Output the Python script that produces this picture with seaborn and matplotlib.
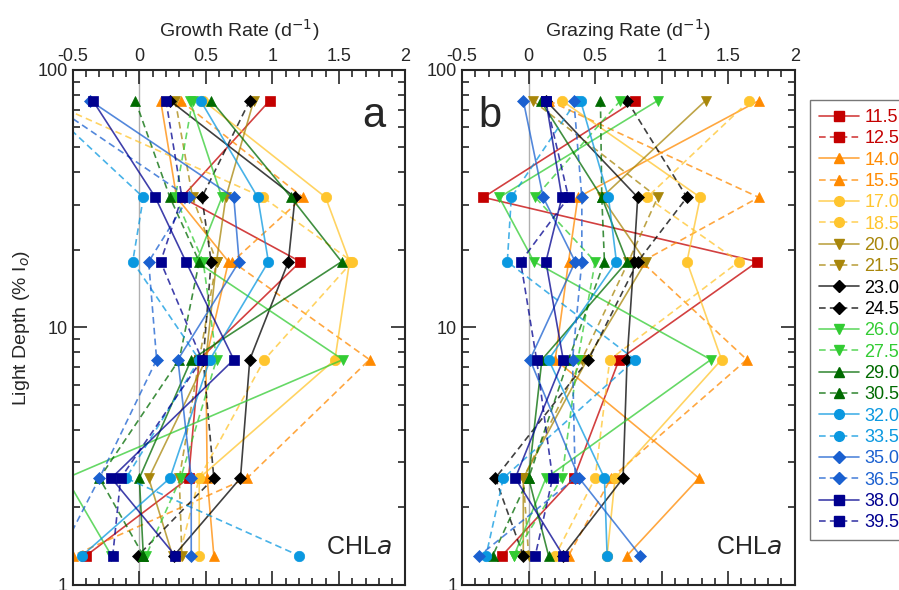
import numpy as np
import pandas as pd
import matplotlib
matplotlib.use('Agg')
import matplotlib.pyplot as plt
import seaborn as sns
from matplotlib.lines import Line2D
from matplotlib.colors import to_rgba
from matplotlib.ticker import FuncFormatter, MultipleLocator, LogLocator, NullFormatter

# light levels (% Io) sampled at each station
depths = [76, 32, 18, 7.5, 2.6, 1.3]

# station labels (latitude)
stations = ['11.5', '12.5', '14.0', '15.5', '17.0', '18.5', '20.0', '21.5', '23.0', '24.5',
            '26.0', '27.5', '29.0', '30.5', '32.0', '33.5', '35.0', '36.5', '38.0', '39.5']

colors = ['#c40000', '#c40000', '#ff8a00', '#ff8a00', '#ffc52e', '#ffc52e', '#a8860a', '#a8860a',
          '#000000', '#000000', '#33cc33', '#33cc33', '#006a00', '#006a00', '#0a98e0', '#0a98e0',
          '#1a60d0', '#1a60d0', '#00008f', '#00008f']
markers = ['s', 's', '^', '^', 'o', 'o', 'v', 'v', 'D', 'D',
           'v', 'v', '^', '^', 'o', 'o', 'D', 'D', 's', 's']

# growth rate (d-1), one list per station, shallow -> deep
growth = {
    '11.5': [0.98, 0.32, 1.21, 0.45, 0.37, -0.40],
    '12.5': [np.nan] * 6,
    '14.0': [0.16, 0.28, 0.67, 0.50, 0.51, 0.56],
    '15.5': [0.31, 1.23, 0.70, 1.73, 0.81, -0.50],
    '17.0': [0.48, 1.40, 1.58, 1.47, 0.45, 0.45],
    '18.5': [-0.70, 0.93, 1.60, 0.94, 0.45, 0.30],
    '20.0': [0.86, 0.65, 0.58, 0.50, 0.07, 0.25],
    '21.5': [0.27, 0.40, 0.58, 0.45, 0.30, 0.32],
    '23.0': [0.23, 1.17, 1.12, 0.83, 0.76, 0.26],
    '24.5': [0.83, 0.47, 0.54, 0.48, 0.56, -0.01],
    '26.0': [0.38, 0.62, 0.43, 1.53, -0.55, -0.21],
    '27.5': [0.40, 0.27, 0.48, 0.58, 0.31, 0.05],
    '29.0': [0.54, 1.14, 1.52, 0.39, 0.00, 0.03],
    '30.5': [-0.03, 0.23, 0.45, 0.30, -0.30, 0.03],
    '32.0': [0.46, 0.89, 0.97, 0.53, 0.23, -0.43],
    '33.5': [-0.75, 0.03, -0.05, 0.45, -0.10, 1.20],
    '35.0': [-0.37, 0.71, 0.75, 0.29, 0.39, 0.39],
    '36.5': [-0.70, 0.37, 0.07, 0.13, -0.30, -0.60],
    '38.0': [-0.35, 0.12, 0.35, 0.71, -0.21, 0.27],
    '39.5': [0.20, 0.32, 0.16, 0.47, -0.14, -0.20],
}

# grazing rate (d-1)
grazing = {
    '11.5': [0.80, -0.34, 1.72, 0.68, 0.34, -0.20],
    '12.5': [np.nan] * 6,
    '14.0': [1.73, 0.37, 0.30, 0.20, 1.28, 0.74],
    '15.5': [0.15, 1.73, 0.85, 1.64, 0.62, 0.30],
    '17.0': [0.25, 1.29, 1.19, 1.45, 0.65, 0.59],
    '18.5': [1.66, 0.89, 1.58, 0.61, 0.50, 0.20],
    '20.0': [1.33, 0.55, 0.88, 0.44, -0.04, -0.04],
    '21.5': [0.03, 0.97, 0.75, 0.40, -0.04, 0.00],
    '23.0': [0.13, 0.82, 0.79, 0.74, 0.71, 0.26],
    '24.5': [0.74, 1.19, 0.82, 0.45, -0.25, -0.04],
    '26.0': [0.97, -0.22, 0.04, 1.37, 0.13, -0.11],
    '27.5': [0.69, 0.05, 0.50, 0.37, 0.25, -0.11],
    '29.0': [0.09, 0.55, 0.74, 0.10, 0.00, 0.15],
    '30.5': [0.54, 0.55, 0.57, 0.30, 0.00, -0.27],
    '32.0': [0.39, 0.60, 0.66, 0.15, 0.57, 0.59],
    '33.5': [0.36, -0.13, -0.16, 0.80, -0.19, -0.32],
    '35.0': [-0.04, 0.11, 0.35, 0.01, 0.38, 0.84],
    '36.5': [0.34, 0.40, 0.40, 0.33, 0.35, -0.37],
    '38.0': [0.13, 0.25, 0.13, 0.26, -0.10, 0.26],
    '39.5': [0.13, 0.30, -0.06, 0.06, 0.18, 0.05],
}

sns.set_style("ticks")
plt.rcParams['font.family'] = ['Liberation Sans', 'DejaVu Sans']

fig = plt.figure(figsize=(8.99, 5.90), dpi=100)
ax_a = fig.add_axes([0.081, 0.0085, 0.370, 0.873])
ax_b = fig.add_axes([0.514, 0.0085, 0.370, 0.873])


def draw_panel(ax, data, xlabel):
    ax.axvline(0, color='#b0b0b0', lw=1, zorder=0)
    for i, st in enumerate(stations):
        vals = data[st]
        if np.all(np.isnan(vals)):
            continue
        df = pd.DataFrame({'rate': vals, 'depth': depths})
        ls = '-' if i % 2 == 0 else (0, (4, 2.5))
        sns.lineplot(data=df, x='rate', y='depth', sort=False, estimator=None, ax=ax,
                     color=to_rgba(colors[i], 0.75), linestyle=ls, linewidth=1.2,
                     marker=markers[i], markersize=7.5 if markers[i] != 'D' else 6.5,
                     markerfacecolor=colors[i], markeredgecolor=colors[i],
                     markeredgewidth=0.5, legend=False, clip_on=True)
    ax.set_yscale('log')
    ax.set_ylim(1, 100)
    ax.set_xlim(-0.5, 2)
    ax.xaxis.set_major_locator(MultipleLocator(0.5))
    ax.xaxis.set_minor_locator(MultipleLocator(0.1))
    ax.xaxis.set_major_formatter(FuncFormatter(lambda v, _: '{:g}'.format(v)))
    ax.yaxis.set_major_locator(LogLocator(base=10))
    ax.yaxis.set_minor_locator(LogLocator(base=10, subs=np.arange(2, 10)))
    ax.yaxis.set_major_formatter(FuncFormatter(lambda v, _: '{:g}'.format(v)))
    ax.yaxis.set_minor_formatter(NullFormatter())
    ax.tick_params(which='both', direction='in', top=True, right=True,
                   labeltop=True, labelbottom=False, labelsize=13, width=1.2)
    ax.tick_params(which='major', length=10)
    ax.tick_params(which='minor', length=5)
    ax.xaxis.set_label_position('top')
    ax.set_xlabel(xlabel, fontsize=14, labelpad=8)
    ax.set_ylabel('')
    for s in ax.spines.values():
        s.set_linewidth(1.5)
    ax.text(0.96, 0.05, 'CHL$\\it{a}$', transform=ax.transAxes, fontsize=18,
            ha='right', va='bottom')


draw_panel(ax_a, growth, 'Growth Rate (d$^{-1}$)')
draw_panel(ax_b, grazing, 'Grazing Rate (d$^{-1}$)')

ax_a.set_ylabel('Light Depth (% I$_o$)', fontsize=14, labelpad=4)
ax_a.text(0.94, 0.95, 'a', transform=ax_a.transAxes, fontsize=30, ha='right', va='top')
ax_b.text(0.05, 0.95, 'b', transform=ax_b.transAxes, fontsize=30, ha='left', va='top')

handles = []
for i, st in enumerate(stations):
    ls = '-' if i % 2 == 0 else (0, (4, 2.5))
    handles.append(Line2D([], [], color=to_rgba(colors[i], 0.75), linestyle=ls, linewidth=1.2,
                          marker=markers[i], markersize=7 if markers[i] != 'D' else 6,
                          markerfacecolor=colors[i], markeredgecolor=colors[i]))
leg = fig.legend(handles, stations, loc='upper left', bbox_to_anchor=(0.891, 0.846),
                 fontsize=13, frameon=True, fancybox=False, edgecolor='#555555',
                 handlelength=2.2, handletextpad=0.3, labelspacing=0.24, borderpad=0.5)
leg.get_frame().set_linewidth(1.0)
for txt, c in zip(leg.get_texts(), colors):
    txt.set_color(c)

fig.savefig('out.png', dpi=100)
